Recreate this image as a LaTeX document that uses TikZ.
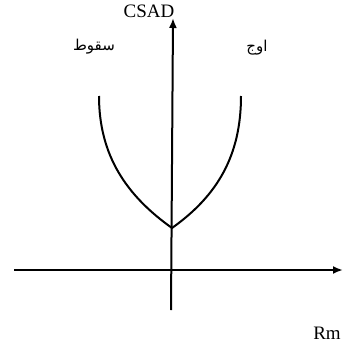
\documentclass[tikz,border=0pt]{standalone}
\usepackage{fontspec}
\setmainfont{Liberation Serif}
\newfontfamily\arabicfont[Script=Arabic]{DejaVu Sans}
\TeXXeTstate=1
\usepackage{tikz}
\usetikzlibrary{arrows.meta}

\begin{document}
\begin{tikzpicture}[
  x=1pt, y=-1pt,
  axis/.style={line width=2pt,-{Latex[length=10pt,width=8pt]}},
  curve/.style={line width=2pt},
  lbl/.style={inner sep=0pt,font=\fontsize{19}{23}\selectfont},
  arlbl/.style={inner sep=0pt,font=\arabicfont\fontsize{15}{18}\selectfont}
]
  \useasboundingbox (0,0) rectangle (344,345);

  % axes
  \coordinate (xs) at (14,270);
  \coordinate (xe) at (343,270);
  \coordinate (ys) at (171,310);
  \coordinate (ye) at (173,18);
  \draw[axis] (xs) -- (xe);
  \draw[axis] (ys) -- (ye);

  % curve
  \coordinate (vtx) at (172,228);
  \coordinate (lt)  at (99,96);
  \coordinate (rt)  at (241,96);
  \draw[curve] (lt) .. controls (99,156) and (127,196) .. (vtx)
                    .. controls (217,196) and (241,156) .. (rt);

  % labels
  \node[lbl,anchor=base] (csad) at (149,18) {CSAD};
  \node[lbl,anchor=base] (rm)   at (327,339) {Rm};
  \node[arlbl] (fall) at (94,47)  {\beginR سقوط\endR};
  \node[arlbl] (peak) at (257,48) {\beginR اوج\endR};
\end{tikzpicture}
\end{document}
